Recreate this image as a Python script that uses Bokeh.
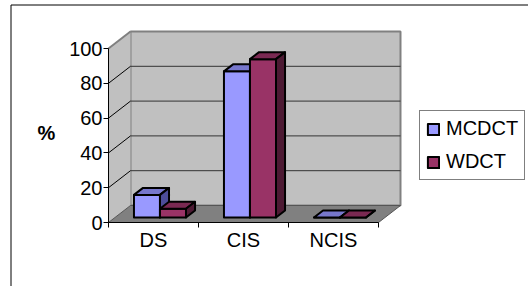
from bokeh.plotting import figure
from bokeh.models import Range1d, LinearAxis, FixedTicker, Legend, LegendItem, Label, Grid
from bokeh.embed import file_html
from bokeh.resources import INLINE

# ---------------- data ----------------
categories = ["DS", "CIS", "NCIS"]
series_names = ["MCDCT", "WDCT"]
mcdct = [13, 84, 0]
wdct = [5, 91, 0]
y_ticks = [0, 20, 40, 60, 80, 100]
y_label = "%"

# ---------------- layout / style ----------------
W, H = 528, 286
LEFT, TOP = 0, 0            # page offset of the figure
OX, OY = 108, 222           # page px of data origin (front plane)
PX_CAT = 90.0               # px per category
PX_VAL = 1.74               # px per value unit
DX = 22 / PX_CAT            # depth offset (x, category units)
DY = 17 / PX_VAL            # depth offset (y, value units)
F0, F1 = 0.294, 0.706       # bar depth fraction
BW = 0.289                  # bar width (category units)
FONT = "Liberation Sans"

FACE = {
    "MCDCT": ("#9999FF", "#7777CC", "#4D4D99"),
    "WDCT": ("#993366", "#7A2952", "#4D1A33"),
}


def dx_(px):
    return (px - OX) / PX_CAT


def dy_(py):
    return (OY - py) / PX_VAL


n = len(categories)
ymax = y_ticks[-1]

p = figure(width=W, height=H,
           x_range=Range1d(dx_(LEFT), dx_(LEFT + W)),
           y_range=Range1d(dy_(TOP + H), dy_(TOP)),
           x_axis_location=None, y_axis_location=None,
           toolbar_location=None, output_backend="svg",
           min_border=0, outline_line_color=None,
           background_fill_color="white", border_fill_color="white")
for r in p.center:
    if isinstance(r, Grid):
        r.visible = False

# outer chart border (left and top)
p.line([dx_(10.5), dx_(10.5)], [dy_(4.5), dy_(400)], line_color="black", line_width=1)
p.line([dx_(10.5), dx_(900)], [dy_(4.5), dy_(4.5)], line_color="black", line_width=1)

# walls
p.patch([DX, n + DX, n + DX, DX], [DY, DY, ymax + DY, ymax + DY],
        fill_color="#C0C0C0", line_color="#808080", line_width=2)
p.patch([0, DX, DX, 0], [0, DY, ymax + DY, ymax],
        fill_color="#C0C0C0", line_color=None)
p.line([0, DX], [ymax, ymax + DY], line_color="#808080", line_width=2)
p.patch([0, n, n + DX, DX], [0, 0, DY, DY],
        fill_color="#808080", line_color="#555555", line_width=1)

# gridlines on back wall and side wall
gv = y_ticks[1:-1]
p.segment(x0=[DX] * len(gv), y0=[v + DY for v in gv],
          x1=[n + DX] * len(gv), y1=[v + DY for v in gv],
          line_color="#333333", line_width=1)
p.segment(x0=[0] * len(gv), y0=gv, x1=[DX] * len(gv), y1=[v + DY for v in gv],
          line_color="#000000", line_width=1)

# bars (pseudo-3D)
ox0, oy0 = F0 * DX, F0 * DY
ox1, oy1 = F1 * DX, F1 * DY
front_renderers = []
for s, (name, vals) in enumerate(zip(series_names, [mcdct, wdct])):
    fx, fy, tx, ty, sx, sy = [], [], [], [], [], []
    for c, v in enumerate(vals):
        l = c + 0.5 - BW + s * BW
        r = l + BW
        fx.append([l + ox0, r + ox0, r + ox0, l + ox0])
        fy.append([oy0, oy0, v + oy0, v + oy0])
        tx.append([l + ox0, r + ox0, r + ox1, l + ox1])
        ty.append([v + oy0, v + oy0, v + oy1, v + oy1])
        sx.append([r + ox0, r + ox1, r + ox1, r + ox0])
        sy.append([oy0, oy1, v + oy1, v + oy0])
    cf, ct, cs = FACE[name]
    rf = p.patches(fx, fy, fill_color=cf, line_color="black", line_width=2, line_join="round")
    p.patches(tx, ty, fill_color=ct, line_color="black", line_width=2, line_join="round")
    p.patches(sx, sy, fill_color=cs, line_color="black", line_width=2, line_join="round")
    front_renderers.append(rf)

# axes
yax = LinearAxis(fixed_location=0, ticker=FixedTicker(ticks=y_ticks), bounds=(0, ymax),
                 major_tick_out=5, major_tick_in=0, minor_tick_out=0, minor_tick_in=0,
                 major_label_standoff=1, axis_line_color="black", major_tick_line_color="black",
                 major_label_text_font=FONT, major_label_text_font_size="20px",
                 major_label_text_color="black")
p.add_layout(yax, "left")

xax = LinearAxis(fixed_location=0,
                 ticker=FixedTicker(ticks=[i + 0.5 for i in range(n)],
                                    minor_ticks=list(range(n + 1))),
                 bounds=(0, n),
                 major_label_overrides={i + 0.5: c for i, c in enumerate(categories)},
                 major_tick_out=0, major_tick_in=0, minor_tick_out=5, minor_tick_in=0,
                 major_label_standoff=1, axis_line_color="black", minor_tick_line_color="black",
                 major_label_text_font=FONT, major_label_text_font_size="20px",
                 major_label_text_color="black")
p.add_layout(xax, "below")

p.add_layout(Label(x=dx_(46), y=dy_(132), text=y_label, text_align="center",
                   text_baseline="middle", text_font=FONT, text_font_size="20px",
                   text_font_style="bold", text_color="black"))

legend = Legend(items=[LegendItem(label=nm, renderers=[r]) for nm, r in zip(series_names, front_renderers)],
                location=(419, 106), orientation="vertical",
                label_text_font=FONT, label_text_font_size="20px", label_text_color="black",
                label_height=22, glyph_height=14, glyph_width=14, label_standoff=6,
                spacing=10, padding=6, margin=0,
                border_line_color="black", border_line_width=1,
                background_fill_color="white", background_fill_alpha=1.0)
p.add_layout(legend)

open("out.html", "w").write(file_html(p, INLINE))
